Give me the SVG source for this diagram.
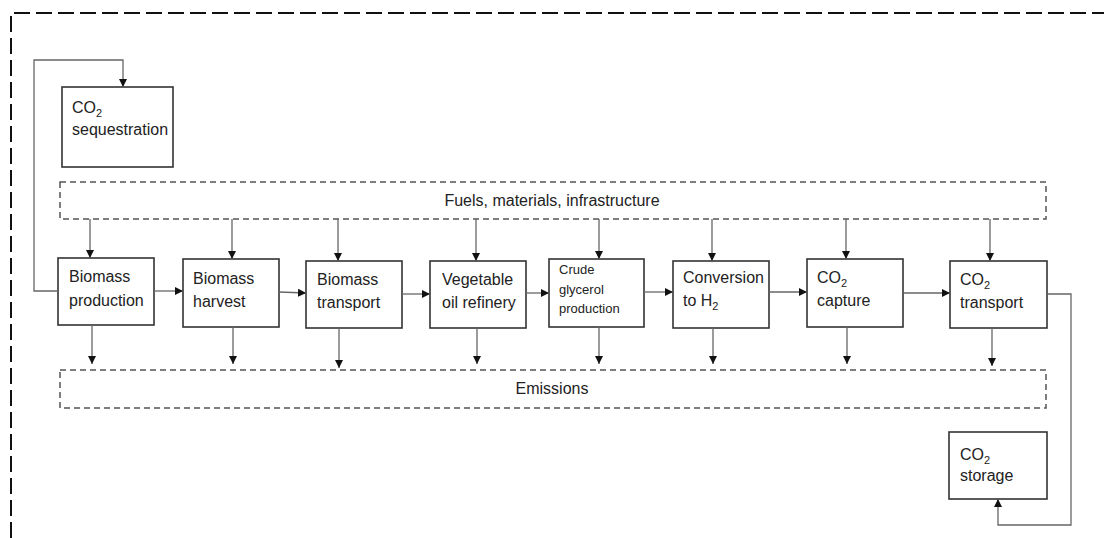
<svg xmlns="http://www.w3.org/2000/svg" width="1104" height="538" viewBox="0 0 1104 538">
<defs>
<marker id="ah" viewBox="0 0 10 10" refX="10" refY="5" markerWidth="8" markerHeight="8" markerUnits="userSpaceOnUse" orient="auto">
<path d="M0,0 L10,5 L0,10 z" fill="#111"/>
</marker>
</defs>
<style>
.frame{fill:none;stroke:#111;stroke-width:2;stroke-dasharray:16 6}
.dbox{fill:none;stroke:#555;stroke-width:1.5;stroke-dasharray:6 4}
.box{fill:#fff;stroke:#333;stroke-width:1.6}
.c{fill:none;stroke:#666;stroke-width:1.3;marker-end:url(#ah)}
.l{fill:none;stroke:#777;stroke-width:1.3}
text{font-family:"Liberation Sans",Arial,sans-serif;font-size:16px;fill:#222}
.sm{font-size:13px}
.sub{font-size:11px}
</style>
<rect width="1104" height="538" fill="#fff"/>
<g id="frame">
<path class="frame" d="M11,538 L11,13 L1104,13"/>
</g>
<g id="fuels">
<rect class="dbox" x="60" y="182" width="986" height="37"/>
<text x="552" y="206" text-anchor="middle">Fuels, materials, infrastructure</text>
</g>
<g id="emissions">
<rect class="dbox" x="60" y="370" width="986" height="38"/>
<text x="552" y="394" text-anchor="middle">Emissions</text>
</g>
<g id="sequestration">
<rect class="box" x="62" y="87" width="111" height="80"/>
<text x="72" y="113">CO<tspan class="sub" dy="4">2</tspan></text>
<text x="72" y="135">sequestration</text>
</g>
<g id="production">
<rect class="box" x="58" y="258" width="96" height="67"/>
<text x="69" y="282">Biomass</text>
<text x="69" y="306">production</text>
</g>
<g id="harvest">
<rect class="box" x="183" y="259" width="96" height="68"/>
<text x="193" y="284">Biomass</text>
<text x="193" y="307">harvest</text>
</g>
<g id="btransport">
<rect class="box" x="306" y="261" width="96" height="67"/>
<text x="317" y="285">Biomass</text>
<text x="317" y="308">transport</text>
</g>
<g id="refinery">
<rect class="box" x="430" y="261" width="96" height="67"/>
<text x="442" y="285">Vegetable</text>
<text x="442" y="308">oil refinery</text>
</g>
<g id="glycerol">
<rect class="box" x="549" y="259" width="95" height="68"/>
<text class="sm" x="559" y="274">Crude</text>
<text class="sm" x="559" y="294">glycerol</text>
<text class="sm" x="559" y="313">production</text>
</g>
<g id="conversion">
<rect class="box" x="673" y="261" width="96" height="67"/>
<text x="683" y="283">Conversion</text>
<text x="683" y="306">to H<tspan class="sub" dy="4">2</tspan></text>
</g>
<g id="capture">
<rect class="box" x="807" y="259" width="96" height="68"/>
<text x="817" y="283">CO<tspan class="sub" dy="4">2</tspan></text>
<text x="817" y="306">capture</text>
</g>
<g id="co2transport">
<rect class="box" x="950" y="261" width="97" height="67"/>
<text x="960" y="285">CO<tspan class="sub" dy="4">2</tspan></text>
<text x="960" y="308">transport</text>
</g>
<g id="storage">
<rect class="box" x="949" y="432" width="98" height="67"/>
<text x="960" y="460">CO<tspan class="sub" dy="4">2</tspan></text>
<text x="960" y="481">storage</text>
</g>
<g id="connectors">
<path class="c" d="M58,291 L34,291 L34,60 L123,60 L123,87"/>
<path class="c" d="M154,291 L183,291"/>
<path class="c" d="M279,292 L306,293"/>
<path class="c" d="M402,294 L430,294"/>
<path class="c" d="M526,293 L549,293"/>
<path class="c" d="M644,292 L673,292"/>
<path class="c" d="M769,292 L807,292"/>
<path class="c" d="M903,293 L950,293"/>
<path class="c" d="M1047,294 L1071,294 L1071,525 L998,525 L998,499"/>
<path class="c" d="M90,219 L90,258"/>
<path class="c" d="M232,219 L232,259"/>
<path class="c" d="M338,219 L338,261"/>
<path class="c" d="M476,219 L476,261"/>
<path class="c" d="M599,219 L599,259"/>
<path class="c" d="M712,219 L712,261"/>
<path class="c" d="M846,219 L846,259"/>
<path class="c" d="M990,219 L990,261"/>
<path class="c" d="M92,325 L92,364"/>
<path class="c" d="M233,327 L233,364"/>
<path class="c" d="M339,328 L339,368"/>
<path class="c" d="M477,328 L477,364"/>
<path class="c" d="M599,327 L599,364"/>
<path class="c" d="M713,328 L713,364"/>
<path class="c" d="M847,327 L847,364"/>
<path class="c" d="M992,328 L992,366"/>
</g>
</svg>
